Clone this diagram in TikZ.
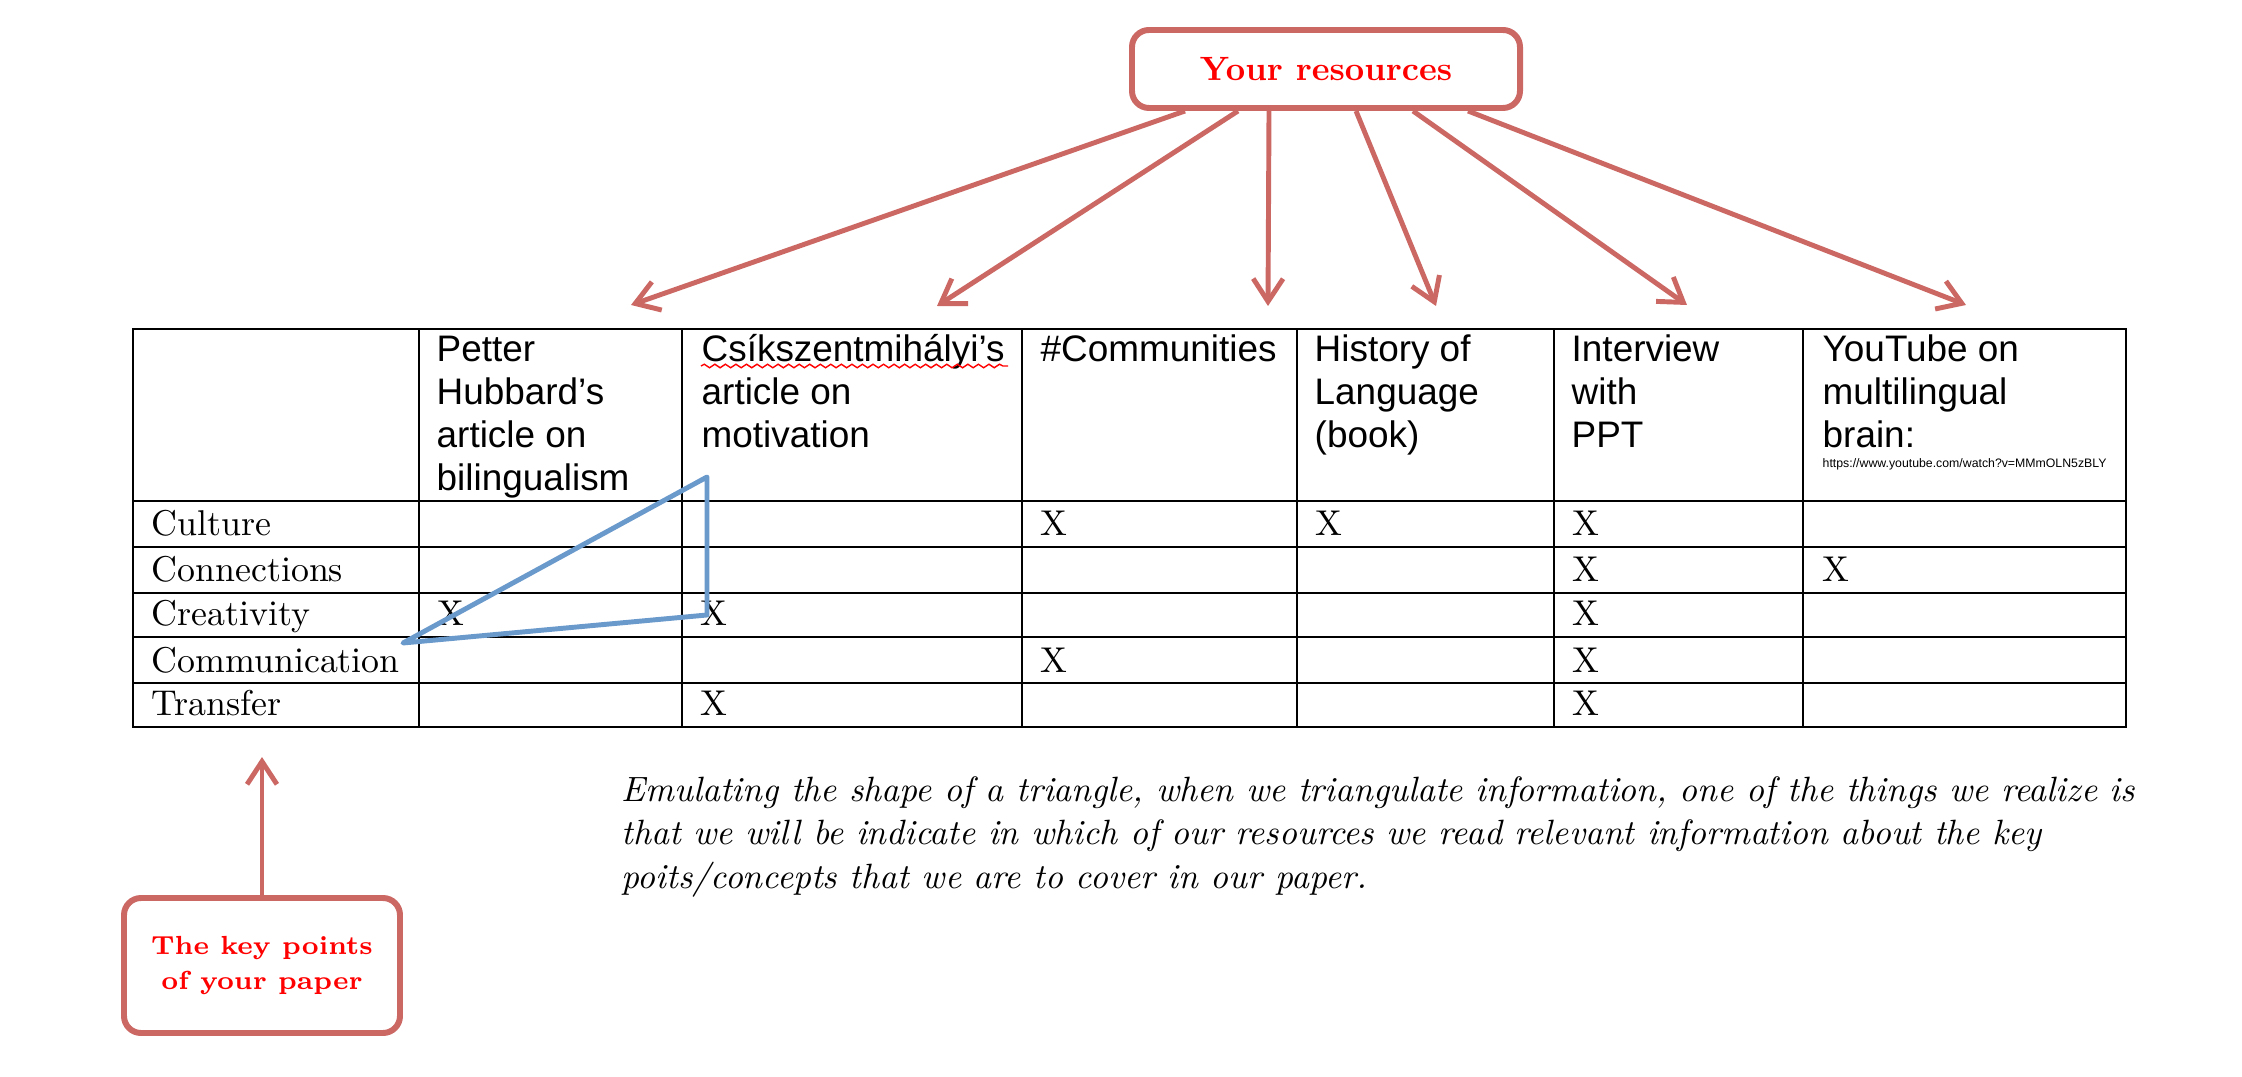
\documentclass[tikz,border=0pt]{standalone}
\usepackage{fontspec}
\usepackage{tikz}
\usetikzlibrary{arrows.meta,calc,positioning,decorations.pathmorphing}
\newfontfamily\hdrfont{Liberation Sans}
\definecolor{boxred}{RGB}{204,104,100}
\definecolor{triblue}{RGB}{106,153,204}
\tikzset{
  resbox/.style={draw=boxred, line width=1.7pt, rounded corners=0.17cm, fill=white, text=red, align=center},
  grid/.style={draw=black, line width=0.6pt},
}

\begin{document}
\begin{tikzpicture}[>={Straight Barb[length=6.5pt,width=8.5pt]}]
   \useasboundingbox (0,0) rectangle (22.42,10.76);
   % table lines
   \draw[grid] (1.33,3.49) rectangle (21.26,7.47);
   \draw[grid] (1.33,5.75) -- (21.26,5.75) (1.33,5.29) -- (21.26,5.29)
               (1.33,4.83) -- (21.26,4.83) (1.33,4.39) -- (21.26,4.39)
               (1.33,3.93) -- (21.26,3.93);
   \draw[grid] (4.19,3.49) -- (4.19,7.47) (6.82,3.49) -- (6.82,7.47)
               (10.22,3.49) -- (10.22,7.47) (12.97,3.49) -- (12.97,7.47)
               (15.54,3.49) -- (15.54,7.47) (18.03,3.49) -- (18.03,7.47);
   % column heads (base = last line)
   \begin{scope}[every node/.style={anchor=base west, inner sep=0pt, align=left, font=\hdrfont\fontsize{10.5}{12.24}\selectfont}]
    \node (h1) at (4.36,5.85) {Petter\\Hubbard’s\\article on\\bilingualism};
    \node (h2) at (7.01,6.28) {Csíkszentmihályi’s\\article on\\motivation};
    \node (h3) at (10.40,7.14) {\#Communities};
    \node (h4) at (13.14,6.28) {History of\\Language\\(book)};
    \node (h5) at (15.71,6.28) {Interview\\with\\PPT};
    \node (h6) at (18.22,6.28) {YouTube on\\multilingual\\brain:};
    \node (url) [font=\hdrfont\fontsize{3.5}{4}\selectfont] at (18.22,6.08) {https://www.youtube.com/watch?v=MMmOLN5zBLY};
   \end{scope}
   \draw[red, line width=0.4pt, decorate, decoration={snake, amplitude=0.5pt, segment length=3pt}] (7.01,7.10) -- (10.08,7.10);
   % rows and marks
   \begin{scope}[every node/.style={anchor=base west, inner sep=0pt, font=\fontsize{10.2}{12}\selectfont}]
    \node (culture) at (1.51,5.40) {Culture};
    \node (connect) at (1.51,4.94) {Connections};
    \node (creat) at (1.51,4.50) {Creativity};
    \node (commun) at (1.51,4.04) {Communication};
    \node (transf) at (1.51,3.60) {Transfer};
    \node (x13) at (10.40,5.40) {X};
    \node (x14) at (13.15,5.40) {X};
    \node (x15) at (15.72,5.40) {X};
    \node (x25) at (15.72,4.94) {X};
    \node (x26) at (18.22,4.94) {X};
    \node (x31) at (4.37,4.50) {X};
    \node (x32) at (7.00,4.50) {X};
    \node (x35) at (15.72,4.50) {X};
    \node (x43) at (10.40,4.04) {X};
    \node (x45) at (15.72,4.04) {X};
    \node (x52) at (7.00,3.60) {X};
    \node (x55) at (15.72,3.60) {X};
   \end{scope}
   % triangle
   \draw[triblue, line width=1.4pt, line join=round] (7.07,5.99) -- (7.07,4.61) -- (4.03,4.33) -- cycle;
   % boxes
   \node (res) [resbox, minimum width=3.88cm, minimum height=0.78cm, font=\bfseries\fontsize{9.6}{11}\selectfont] at (13.26,10.07) {Your resources};
   \node (kp) [resbox, minimum width=2.76cm, minimum height=1.35cm, font=\bfseries\fontsize{7.45}{10}\selectfont] at (2.62,1.105) {The key points\\of your paper};
   \coordinate (t1) at (6.31,7.71);
   \coordinate (t2) at (9.37,7.70);
   \coordinate (t3) at (12.68,7.70);
   \coordinate (t4) at (14.36,7.70);
   \coordinate (t5) at (16.87,7.71);
   \coordinate (t6) at (19.66,7.71);
   \coordinate (kt) at (2.62,3.19);
   \begin{scope}[every edge/.style={draw=boxred, line width=1.4pt, ->}]
    \draw ([xshift=0.56cm]res.south west) edge (t1);
    \draw ([xshift=1.09cm]res.south west) edge (t2);
    \draw ([xshift=1.40cm]res.south west) edge (t3);
    \draw ([xshift=2.27cm]res.south west) edge (t4);
    \draw ([xshift=2.84cm]res.south west) edge (t5);
    \draw ([xshift=3.39cm]res.south west) edge (t6);
    \draw (kp) edge (kt);
   \end{scope}
   % note
   \node (note) [anchor=base west, inner sep=0pt, align=left, font=\itshape\fontsize{10}{12.24}\selectfont] at (6.21,1.88)
     {Emulating the shape of a triangle, when we triangulate information, one of the things we realize is\\
      that we will be indicate in which of our resources we read relevant information about the key\\
      poits/concepts that we are to cover in our paper.};
\end{tikzpicture}
\end{document}
